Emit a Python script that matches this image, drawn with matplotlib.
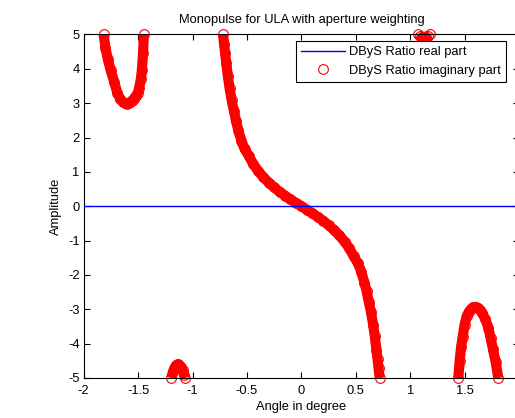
import numpy as np
import matplotlib.pyplot as plt

plt.rcParams['font.family'] = ['Liberation Sans', 'DejaVu Sans']
plt.rcParams['font.size'] = 9.25

# real part of the difference/sum ratio (flat at zero)
real_angle = [-2.0, 2.0]
real_part = [0.0, 0.0]

# imaginary part, one array pair per visible branch
main_angle = [-0.72, -0.71, -0.70, -0.69, -0.675, -0.66, -0.64, -0.62, -0.60, -0.58,
              -0.55, -0.52, -0.48, -0.44, -0.40, -0.35, -0.30, -0.25, -0.20, -0.15,
              -0.10, -0.05, 0.00, 0.05, 0.10, 0.15, 0.20, 0.25, 0.30, 0.35,
              0.40, 0.44, 0.48, 0.52, 0.55, 0.58, 0.60, 0.62, 0.64, 0.66,
              0.675, 0.69, 0.70, 0.71, 0.72]
main_imag = [5.00, 4.72, 4.45, 4.18, 3.78, 3.45, 3.08, 2.78, 2.48, 2.22,
             1.90, 1.66, 1.45, 1.22, 1.04, 0.85, 0.69, 0.55, 0.42, 0.31,
             0.20, 0.10, 0.00, -0.10, -0.20, -0.31, -0.42, -0.55, -0.69, -0.85,
             -1.04, -1.22, -1.45, -1.66, -1.90, -2.22, -2.48, -2.78, -3.08, -3.45,
             -3.78, -4.18, -4.45, -4.72, -5.00]

left_lobe_angle = [-1.817, -1.80, -1.78, -1.753, -1.72, -1.69, -1.665, -1.64, -1.62, -1.60,
                   -1.58, -1.56, -1.54, -1.52, -1.503, -1.49, -1.475, -1.465, -1.455, -1.447]
left_lobe_imag = [5.00, 4.62, 4.30, 3.97, 3.62, 3.29, 3.13, 3.04, 3.00, 2.99,
                  3.01, 3.06, 3.13, 3.21, 3.29, 3.45, 3.70, 3.97, 4.45, 5.00]

right_lobe_angle = [1.443, 1.455, 1.468, 1.483, 1.50, 1.52, 1.54, 1.56, 1.58, 1.60,
                    1.62, 1.64, 1.66, 1.69, 1.72, 1.74, 1.76, 1.785, 1.81]
right_lobe_imag = [-5.00, -4.50, -4.10, -3.80, -3.45, -3.20, -3.07, -2.99, -2.94, -2.93,
                   -2.95, -3.01, -3.10, -3.28, -3.55, -3.85, -4.15, -4.52, -5.00]

low_bump_angle = [-1.195, -1.18, -1.165, -1.15, -1.135, -1.12, -1.105, -1.09, -1.078, -1.07]
low_bump_imag = [-5.00, -4.82, -4.70, -4.63, -4.60, -4.62, -4.68, -4.78, -4.90, -5.00]

high_bump_angle = [1.075, 1.09, 1.11, 1.13, 1.15, 1.165, 1.18]
high_bump_imag = [5.00, 4.95, 4.93, 4.93, 4.94, 4.96, 5.00]

branches = [(main_angle, main_imag), (left_lobe_angle, left_lobe_imag),
            (right_lobe_angle, right_lobe_imag), (low_bump_angle, low_bump_imag),
            (high_bump_angle, high_bump_imag)]

fig = plt.figure(figsize=(5.15, 4.18), dpi=100)
ax = fig.add_axes([0.1625, 0.0957, 0.8452, 0.8218])

ax.plot(real_angle, real_part, color='#0000ff', lw=1.0, label='DByS Ratio real part', zorder=3)

for i, (ang, im) in enumerate(branches):
    # dense circles merge into a solid band
    ax.plot(ang, im, color='red', lw=7.3, solid_capstyle='butt',
            solid_joinstyle='round', clip_on=False, zorder=2)
    ax.plot(ang, im, 'o', mfc='none', mec='red', ms=7, mew=0.8, clip_on=False, zorder=2,
            label='DByS Ratio imaginary part' if i == 0 else None)

ax.set_xlim(-2, 2)
ax.set_ylim(-5, 5)
ax.set_xticks(np.arange(-2, 2.01, 0.5))
ax.set_xticklabels(['-2', '-1.5', '-1', '-0.5', '0', '0.5', '1', '1.5', ''])
ax.set_yticks(range(-5, 6))
ax.set_yticklabels([str(v) for v in range(-5, 6)])
ax.tick_params(direction='in', length=4, width=0.8, top=True, right=True)
ax.tick_params(axis='x', pad=5)
ax.tick_params(axis='y', pad=3)
for s in ax.spines.values():
    s.set_linewidth(0.8)

ax.set_title('Monopulse for ULA with aperture weighting', fontsize=9.25, pad=8)
ax.set_xlabel('Angle in degree', labelpad=3)
ax.set_ylabel('Amplitude', labelpad=4)

leg = ax.legend(loc='upper right', bbox_to_anchor=(0.970, 0.981), fancybox=False,
                framealpha=1, edgecolor='black', numpoints=1, handlelength=3.4,
                handletextpad=0.35, borderpad=0.4, labelspacing=0.52, borderaxespad=0)
leg.get_frame().set_linewidth(0.8)
leg.set_zorder(5)

fig.savefig('out.png', dpi=100)
